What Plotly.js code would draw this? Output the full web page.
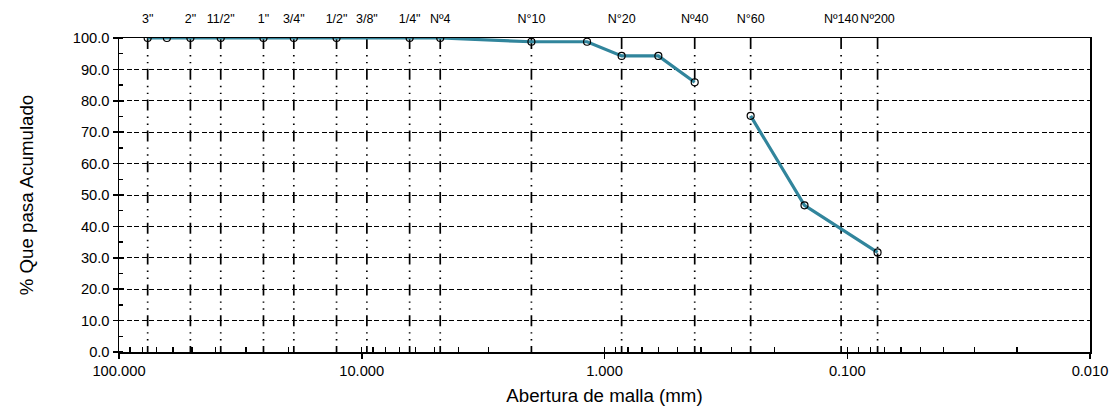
<!DOCTYPE html>
<html>
<head>
<meta charset="utf-8">
<script src="https://cdn.plot.ly/plotly-3.0.1.min.js"></script>
<style>html,body{margin:0;padding:0;background:#fff}#chart{width:1118px;height:407px}</style>
</head>
<body>
<div id="chart"></div>
<script>
// Sieve openings (mm) and labels shown on top
const sieveSizes = [76.2, 50.8, 38.1, 25.4, 19.05, 12.7, 9.525, 6.35, 4.75, 2.0, 0.85, 0.425, 0.25, 0.106, 0.075];
const sieveLabels = ['3"', '2"', '11/2"', '1"', '3/4"', '1/2"', '3/8"', '1/4"', 'Nº4', 'N°10', 'N°20', 'Nº40', 'N°60', 'Nº140', 'Nº200'];

// Test results: opening (mm) and % passing
const testSizes = [76.2, 63.5, 50.8, 38.1, 25.4, 19.05, 12.7, 6.35, 4.75, 2.0, 1.18, 0.85, 0.6, 0.425, 0.3, 0.25, 0.15, 0.075];
const passing   = [100, 100, 100, 100, 100, 100, 100, 100, 100, 98.8, 98.8, 94.3, 94.3, 85.9, null, 75.2, 46.7, 31.7];

// Axis ticks
const xTickVals = [100, 10, 1, 0.1, 0.01];
const xTickText = ['100.000', '10.000', '1.000', '0.100', '0.010'];

const innerTickVals = xTickVals.slice();
[10, 1, 0.1, 0.01].forEach(d => { for (let k = 2; k <= 9; k++) innerTickVals.push(+(k * d).toPrecision(3)); });

// vertical sieve lines built from sieveSizes
const vx = [], vy = [];
sieveSizes.forEach(s => { vx.push(s, s, null); vy.push(100, 0, null); });

const font = {family: 'Liberation Sans, Arial, sans-serif', color: '#000'};

const traces = [
  {
    x: vx, y: vy, xaxis: 'x', yaxis: 'y', mode: 'lines', type: 'scatter',
    line: {color: '#000', width: 1.7, dash: '11px,6px,1.4px,5.5px,1.4px,5.5px'},
    hoverinfo: 'skip', showlegend: false
  },
  {
    x: [], y: [], xaxis: 'x2', yaxis: 'y', mode: 'lines', type: 'scatter',
    hoverinfo: 'skip', showlegend: false
  },
  {
    x: testSizes, y: passing, xaxis: 'x3', yaxis: 'y2', mode: 'lines', type: 'scatter',
    line: {color: '#31859c', width: 3.2}, connectgaps: false,
    showlegend: false
  },
  {
    x: testSizes, y: passing, xaxis: 'x3', yaxis: 'y2', mode: 'markers', type: 'scatter',
    marker: {symbol: 'circle-open', size: 7, color: '#000', line: {width: 1.2, color: '#000'}},
    showlegend: false
  }
];

const layout = {
  width: 1118, height: 407,
  margin: {l: 119, r: 28, t: 38, b: 55},
  paper_bgcolor: '#fff', plot_bgcolor: '#fff',
  font: Object.assign({size: 14.7}, font),
  showlegend: false,
  xaxis: {
    type: 'log', range: [2, -2],
    tickmode: 'array', tickvals: xTickVals, ticktext: xTickText,
    ticks: 'outside', ticklen: 5, tickwidth: 1.5, tickcolor: '#000',
    showline: true, linecolor: '#000', linewidth: 1.5, mirror: true,
    showgrid: false, zeroline: false,
    tickfont: Object.assign({size: 14.7}, font),
    title: {text: 'Abertura de malla (mm)', font: Object.assign({size: 18.7}, font), standoff: 11}
  },
  xaxis2: {
    type: 'log', range: [2, -2], overlaying: 'x', side: 'top', anchor: 'y',
    tickmode: 'array', tickvals: sieveSizes, ticktext: sieveLabels, tickangle: 0,
    ticks: '', ticklabelstandoff: 12, showline: false, showgrid: false, zeroline: false,
    tickfont: Object.assign({size: 12.5}, font)
  },
  xaxis3: {
    type: 'log', range: [2, -2], overlaying: 'x', side: 'bottom', anchor: 'y2',
    tickmode: 'array', tickvals: innerTickVals, showticklabels: false,
    ticks: 'inside', ticklen: 5, tickwidth: 1.3, tickcolor: '#000',
    showline: false, showgrid: false, zeroline: false
  },
  yaxis: {
    range: [0, 100], dtick: 10, tick0: 0, tickformat: '.1f',
    ticks: 'outside', ticklen: 5, tickwidth: 1.5, tickcolor: '#000',
    minor: {dtick: 5, ticks: 'inside', ticklen: 4, tickwidth: 1.3, tickcolor: '#000', showgrid: false},
    showline: true, linecolor: '#000', linewidth: 1.5, mirror: true,
    showgrid: true, gridcolor: '#000', gridwidth: 1, griddash: '5px,2.5px',
    zeroline: false,
    tickfont: Object.assign({size: 14.7}, font),
    title: {text: '% Que pasa Acumulado', font: Object.assign({size: 18.7}, font), standoff: 34}
  },
  yaxis2: {
    range: [0, 100], dtick: 10, tick0: 0, overlaying: 'y', side: 'left', anchor: 'x3',
    ticks: 'inside', ticklen: 5, tickwidth: 1.5, tickcolor: '#000',
    showticklabels: false, showline: false, showgrid: false, zeroline: false
  }
};

Plotly.newPlot('chart', traces, layout, {displayModeBar: false, staticPlot: true});
</script>
</body>
</html>
